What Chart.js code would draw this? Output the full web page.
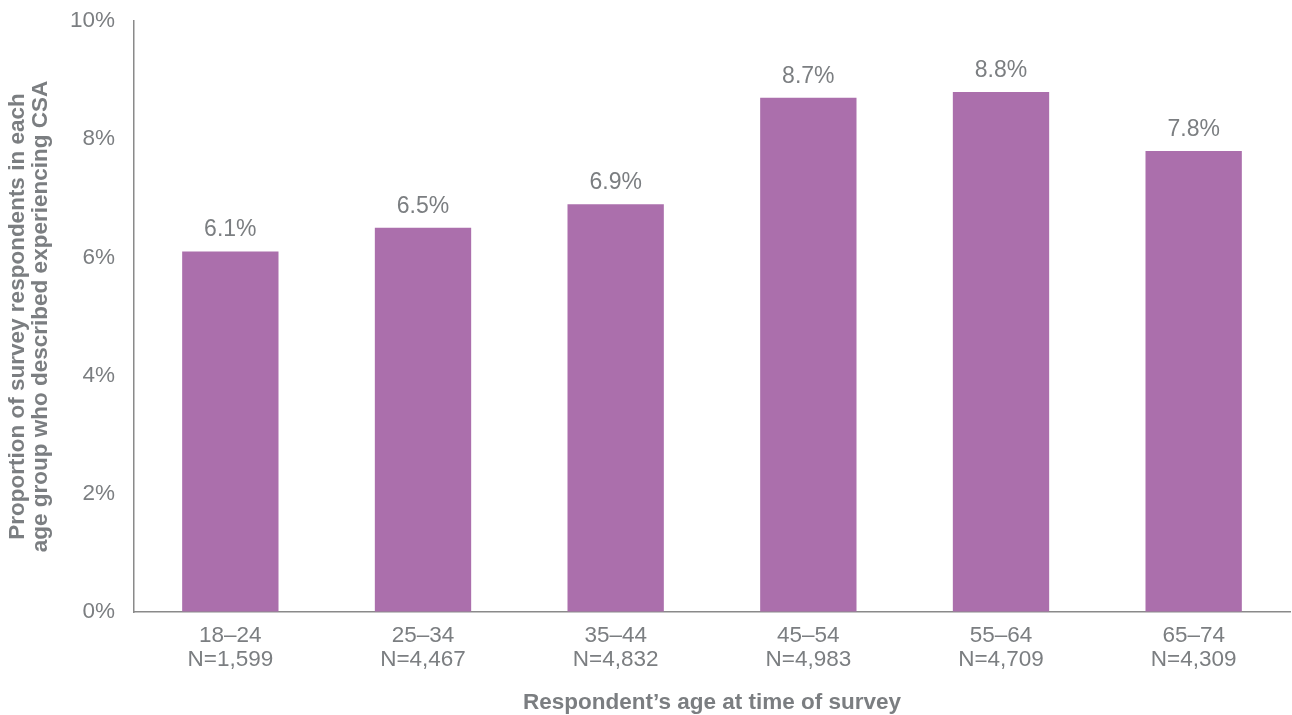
<!DOCTYPE html>
<html>
<head>
<meta charset="utf-8">
<script src="https://cdn.jsdelivr.net/npm/chart.js@4.4.1/dist/chart.umd.min.js"></script>
<style>
  html, body { margin: 0; padding: 0; background: #fff; }
  #wrap { width: 1292px; height: 715px; position: relative; }
</style>
</head>
<body>
<div id="wrap"><canvas id="chart"></canvas></div>
<script>
// Age groups, sample sizes and CSA proportions (percent).
const ageGroups = ["18–24", "25–34", "35–44", "45–54", "55–64", "65–74"];
const sampleSizes = ["N=1,599", "N=4,467", "N=4,832", "N=4,983", "N=4,709", "N=4,309"];
const csaPercent = [6.1, 6.5, 6.9, 8.7, 8.8, 7.8];

const yTitle = ["Proportion of survey respondents in each", "age group who described experiencing CSA"];
const xTitle = "Respondent’s age at time of survey";

const TEXT = "#7b7e81";
const AXIS = "#8a8a8a";
const BAR = "#ab6fac";
const FONT = "'Liberation Sans', Arial, Helvetica, sans-serif";

// Value labels above each bar, positioned from the bar elements Chart.js laid out.
const valueLabels = {
  id: "valueLabels",
  afterDatasetsDraw(chart) {
    const { ctx } = chart;
    const meta = chart.getDatasetMeta(0);
    ctx.save();
    ctx.fillStyle = TEXT;
    ctx.font = `23px ${FONT}`;
    ctx.textAlign = "center";
    ctx.textBaseline = "bottom";
    meta.data.forEach((bar, i) => {
      ctx.fillText(csaPercent[i].toFixed(1) + "%", bar.x, bar.y - 10);
    });
    ctx.restore();
  },
};

new Chart(document.getElementById("chart").getContext("2d"), {
  type: "bar",
  data: {
    labels: ageGroups.map((g, i) => [g, sampleSizes[i]]),
    datasets: [{
      data: csaPercent,
      backgroundColor: BAR,
      categoryPercentage: 1,
      barPercentage: 0.5,
    }],
  },
  options: {
    responsive: true,
    maintainAspectRatio: false,
    animation: false,
    layout: { padding: { top: 21, right: 2, left: 0, bottom: 0 } },
    plugins: { legend: { display: false }, tooltip: { enabled: false } },
    scales: {
      x: {
        grid: { display: true, drawOnChartArea: false, drawTicks: false },
        border: { display: true, color: AXIS, width: 1.5 },
        ticks: {
          color: TEXT,
          padding: 12,
          maxRotation: 0,
          font: { family: FONT, size: 22.5, lineHeight: 1.07 },
        },
        title: {
          display: true,
          text: xTitle,
          color: TEXT,
          padding: { top: 0, bottom: 1 },
          font: { family: FONT, size: 22.5, weight: "bold", lineHeight: 1 },
        },
        afterFit: (scale) => { scale.height = 103; },
      },
      y: {
        min: 0,
        max: 10,
        grid: { display: true, drawOnChartArea: false, drawTicks: false },
        border: { display: true, color: AXIS, width: 1.5 },
        ticks: {
          stepSize: 2,
          color: TEXT,
          padding: 19,
          font: { family: FONT, size: 22.5 },
          callback: (v) => v + "%",
        },
        title: {
          display: true,
          text: yTitle,
          color: TEXT,
          padding: { top: 7, bottom: 0 },
          font: { family: FONT, size: 22.5, weight: "bold", lineHeight: 1 },
        },
        afterFit: (scale) => {
          scale.width = 134;
          scale.paddingTop = 0;
          scale.paddingBottom = 0;
        },
      },
    },
  },
  plugins: [valueLabels],
});
</script>
</body>
</html>
